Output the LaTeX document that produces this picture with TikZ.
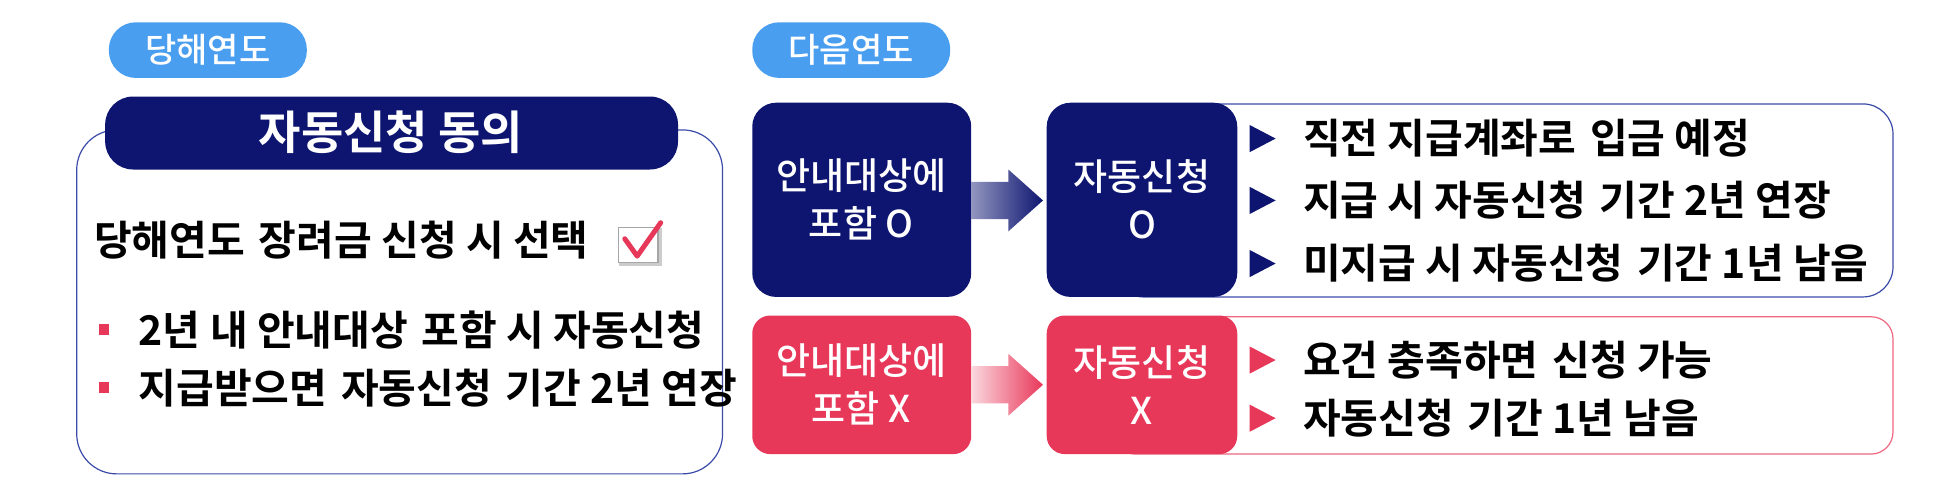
\documentclass[tikz,border=0pt]{standalone}
\usepackage{fontspec}
\setmainfont{Noto Sans CJK KR}
\newfontfamily\kb{Noto Sans CJK KR Bold}
\newfontfamily\km{Noto Sans CJK KR Medium}
\usetikzlibrary{positioning}
\definecolor{navy}{HTML}{0D1570}
\definecolor{sky}{HTML}{4A9EF0}
\definecolor{rose}{HTML}{E8385A}
\definecolor{lnavy}{HTML}{3A4BA8}
\definecolor{lrose}{HTML}{EE6680}
\tikzset{
 ptxt/.style={text=white,font=\km\fontsize{34}{36}\selectfont},
 txt/.style={anchor=west,inner sep=0,font=\kb\fontsize{41}{44}\selectfont},
 ctxt/.style={text=white,align=center,font=\km\fontsize{37}{48}\selectfont}
}
\begin{document}
\begin{tikzpicture}[x=1.237pt,y=-1.237pt]
\useasboundingbox (0,0) rectangle (1568,402.6);
% pills
\fill[sky,rounded corners=27] (88,18) rectangle (248,63);
\node[ptxt] (p1) at (168,40) {당해연도};
\fill[sky,rounded corners=27] (608,18) rectangle (768,63);
\node[ptxt] (p2) at (688,40) {다음연도};
% left box
\draw[lnavy,line width=1.2pt,rounded corners=40] (62,105) rectangle (584,383);
\fill[navy,rounded corners=28] (85,78) rectangle (548,137);
\node[text=white,font=\kb\fontsize{46}{50}\selectfont] (t) at (316,107) {자동신청 동의};
\node[txt] (l1) at (76,194) {당해연도\,\,장려금 신청 시 선택};
\fill[gray!40] (500,184) rectangle (535,215);
\fill[white] (500,184) rectangle (532,212);
\draw[gray!70,line width=1.5pt] (500,184) rectangle (532,212);
\draw[rose,line width=5pt,line cap=round,line join=round] (505,193) -- (515,207) -- (534,180);
\fill[rose] (80,262) rectangle (88,271);
\node[txt] (b1) at (112,267) {2년 내 안내대상\,\,포함 시 자동신청};
\fill[rose] (80,309) rectangle (88,318);
\node[txt] (b2) at (112,314) {지급받으면\,\,자동신청\,\,기간 2년 연장};
% upper row
\draw[lnavy,line width=1.2pt,rounded corners=30] (900,84) rectangle (1530,240);
\fill[navy,rounded corners=24] (608,83) rectangle (785,240);
\node[ctxt] (a1) at (696,161) {안내대상에\\포함 O};
\fill[navy,rounded corners=24] (846,83) rectangle (1000,240);
\node[ctxt] (a2) at (923,161) {자동신청\\O};
\shade[left color=navy!45,right color=navy] (785,147) -- (815,147) -- (815,137) -- (843,162) -- (815,187) -- (815,177) -- (785,177) -- cycle;
\foreach \y/\s [count=\i] in {112/직전 지급계좌로\,\,입금 예정,162/지급 시 자동신청\,\,기간 2년 연장,213/미지급 시 자동신청\,\,기간 1년 남음}{
 \fill[navy] (1010,\y-11) -- (1031,\y) -- (1010,\y+11) -- cycle;
 \node[txt] (u\i) at (1053,\y) {\s};
}
% lower row
\draw[lrose,line width=1.2pt,rounded corners=22] (900,256) rectangle (1530,367);
\fill[rose,rounded corners=18] (608,255) rectangle (785,367);
\node[ctxt] (c1) at (696,311) {안내대상에\\포함 X};
\fill[rose,rounded corners=18] (846,255) rectangle (1000,367);
\node[ctxt] (c2) at (923,311) {자동신청\\X};
\shade[left color=rose!20,right color=rose] (785,296) -- (815,296) -- (815,286) -- (843,311) -- (815,336) -- (815,326) -- (785,326) -- cycle;
\foreach \y/\s [count=\i] in {291/요건 충족하면\,\,신청 가능,338/자동신청\,\,기간 1년 남음}{
 \fill[rose] (1010,\y-11) -- (1031,\y) -- (1010,\y+11) -- cycle;
 \node[txt] (d\i) at (1053,\y) {\s};
}
\end{tikzpicture}
\end{document}
